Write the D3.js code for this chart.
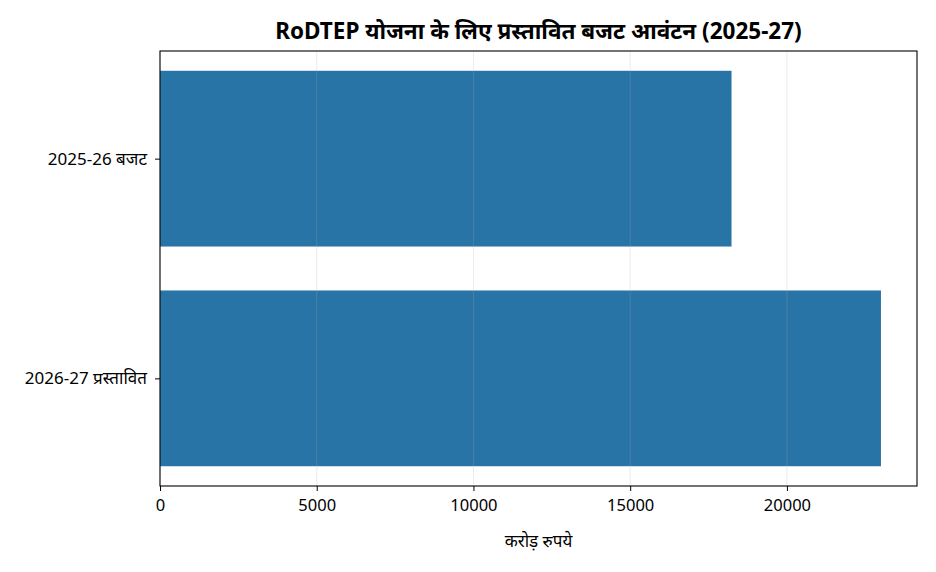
<!DOCTYPE html>
<html>
<head>
<meta charset="utf-8">
<script src="https://cdn.jsdelivr.net/npm/d3@7"></script>
<style>
  body { margin: 0; background: #fff; }
  svg text { font-family: "Noto Sans", "Noto Sans Devanagari", sans-serif; fill: #000; }
</style>
</head>
<body>
<svg id="chart"></svg>
<script>
// data
const categories = ['2025-26 बजट', '2026-27 प्रस्तावित'];
const values = [18233, 23000];
const xTicks = [0, 5000, 10000, 15000, 20000];
const title = 'RoDTEP योजना के लिए प्रस्तावित बजट आवंटन (2025-27)';
const xLabel = 'करोड़ रुपये';

const width = 936;
const height = 572;
const margin = { top: 51, right: 19, bottom: 86, left: 160 };
const color = '#2874a6';

const svg = d3.select('#chart')
    .attr('width', width)
    .attr('height', height);

const innerW = width - margin.left - margin.right;
const innerH = height - margin.top - margin.bottom;

const g = svg.append('g')
    .attr('transform', `translate(${margin.left},${margin.top})`);

// x scale with 5% headroom like matplotlib
const x = d3.scaleLinear()
    .domain([0, d3.max(values) * 1.05])
    .range([0, innerW]);

// y: categories at 0,1 ; bars 0.8 tall ; 5% margins
const y = d3.scaleLinear()
    .domain([-0.49, 1.49])
    .range([0, innerH]);

// bars
g.selectAll('rect.bar')
    .data(values)
    .enter().append('rect')
    .attr('class', 'bar')
    .attr('x', x(0))
    .attr('y', (d, i) => y(i - 0.4))
    .attr('width', d => x(d) - x(0))
    .attr('height', y(0.8) - y(0))
    .attr('fill', color);

// grid on top of bars
g.selectAll('line.grid')
    .data(xTicks)
    .enter().append('line')
    .attr('class', 'grid')
    .attr('x1', d => x(d)).attr('x2', d => x(d))
    .attr('y1', 0).attr('y2', innerH)
    .attr('stroke', '#b0b0b0')
    .attr('stroke-width', 0.8)
    .attr('opacity', 0.3);

// x axis
const xAxis = g.append('g')
    .attr('transform', `translate(0,${innerH})`)
    .call(d3.axisBottom(x).tickValues(xTicks).tickFormat(d3.format('d')).tickSize(5).tickPadding(8));
xAxis.select('.domain').remove();
xAxis.selectAll('.tick line').attr('stroke', '#000').attr('stroke-width', 1);
xAxis.selectAll('.tick text').style('font-size', '16.5px');

// y axis
const yAxis = g.append('g')
    .call(d3.axisLeft(y).tickValues([0, 1]).tickFormat(i => categories[i]).tickSize(5).tickPadding(8));
yAxis.select('.domain').remove();
yAxis.selectAll('.tick line').attr('stroke', '#000').attr('stroke-width', 1);
yAxis.selectAll('.tick text').style('font-size', '17px');

// frame
g.append('rect')
    .attr('width', innerW)
    .attr('height', innerH)
    .attr('fill', 'none')
    .attr('stroke', '#000')
    .attr('stroke-width', 1.1);

// title
svg.append('text')
    .attr('x', margin.left + innerW / 2)
    .attr('y', 39)
    .attr('text-anchor', 'middle')
    .style('font-size', '22.5px')
    .style('font-weight', 'bold')
    .text(title);

// x label
svg.append('text')
    .attr('x', margin.left + innerW / 2)
    .attr('y', 547)
    .attr('text-anchor', 'middle')
    .style('font-size', '17px')
    .text(xLabel);
</script>
</body>
</html>
